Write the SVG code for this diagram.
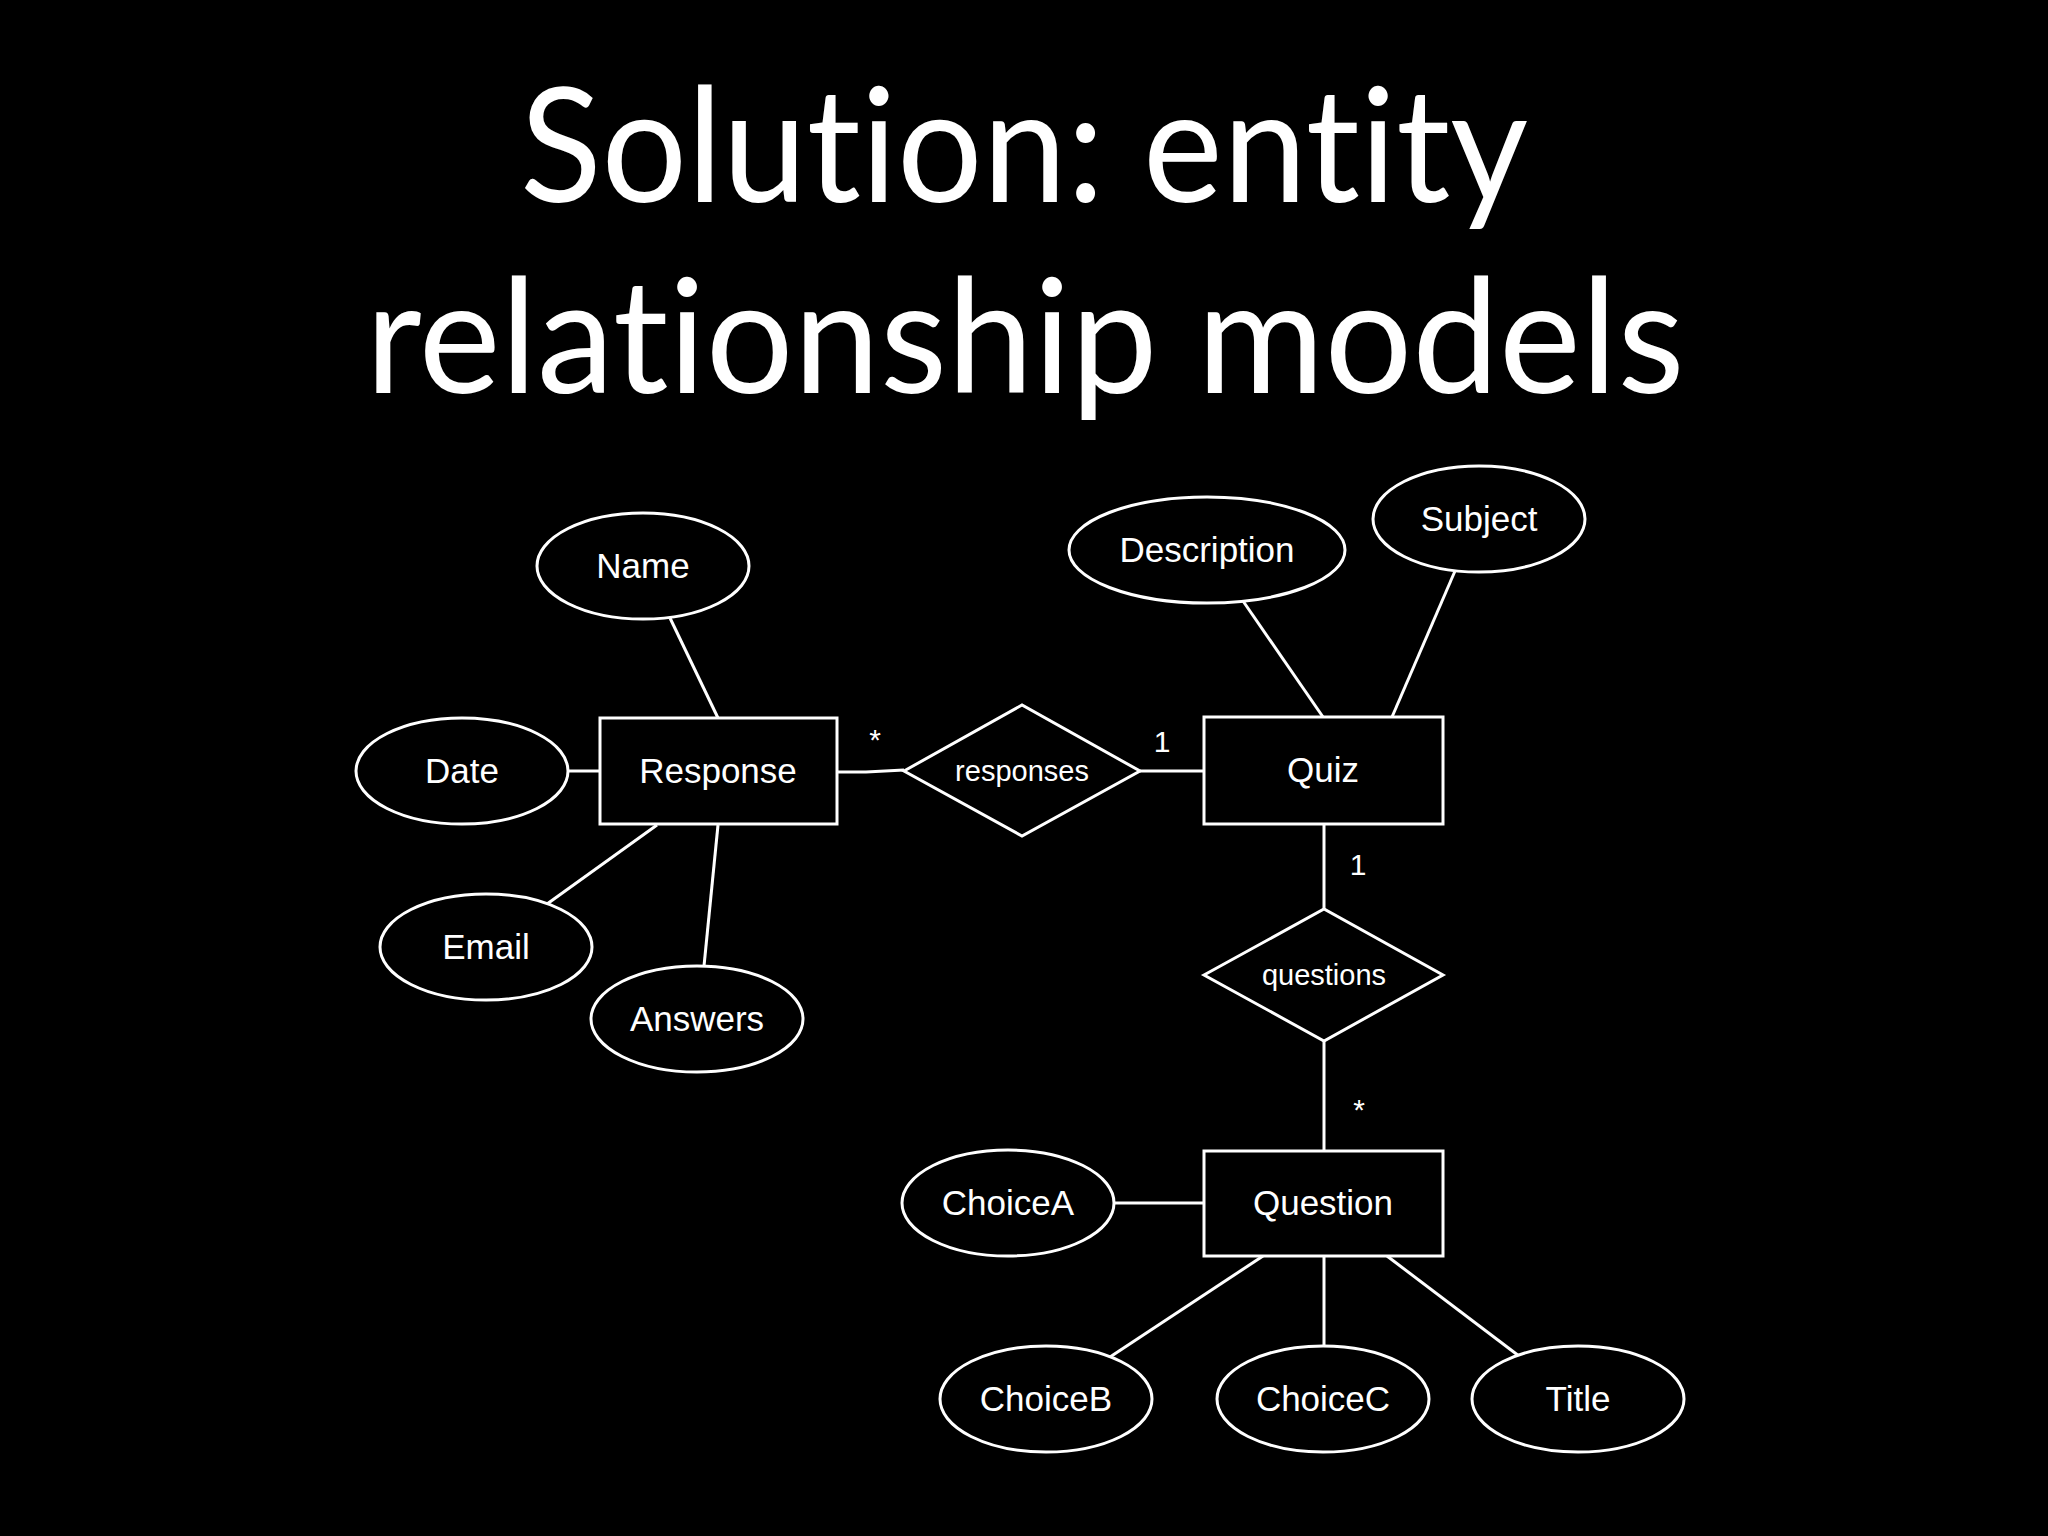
<svg xmlns="http://www.w3.org/2000/svg" width="2048" height="1536" viewBox="0 0 2048 1536">
<style>
.bg{fill:#000}
.title{font-family:Lato,"Open Sans","Liberation Sans",sans-serif;font-size:160px;fill:#fff;text-anchor:middle;font-variant-ligatures:none;font-feature-settings:"liga" 0,"clig" 0}
.shape{fill:#000;stroke:#fff;stroke-width:3}
.lbl{font-family:"Liberation Sans",Arial,sans-serif;font-size:35px;fill:#fff;text-anchor:middle}
.rel{font-family:"Liberation Sans",Arial,sans-serif;font-size:29px;fill:#fff;text-anchor:middle}
.card{font-family:"Liberation Sans",Arial,sans-serif;font-size:30px;fill:#fff;text-anchor:middle}
.conn{fill:none;stroke:#fff;stroke-width:3}
</style>
<rect class="bg" x="0" y="0" width="2048" height="1536"/>
<g id="title">
<text class="title" x="1024" y="202" textLength="1008" lengthAdjust="spacingAndGlyphs">Solution: entity</text>
<text class="title" x="1025" y="393" textLength="1319" lengthAdjust="spacingAndGlyphs">relationship models</text>
</g>
<g id="connectors">
<line class="conn" x1="670" y1="618" x2="718" y2="718"/>
<line class="conn" x1="568" y1="771" x2="600" y2="771"/>
<line class="conn" x1="657" y1="825" x2="547" y2="904"/>
<line class="conn" x1="718" y1="825" x2="704" y2="966"/>
<path class="conn" d="M837 772 L866 772 L904 770"/>
<line class="conn" x1="1140" y1="771" x2="1204" y2="771"/>
<line class="conn" x1="1243" y1="601" x2="1323" y2="717"/>
<line class="conn" x1="1455" y1="571" x2="1392" y2="717"/>
<line class="conn" x1="1324" y1="824" x2="1324" y2="909"/>
<line class="conn" x1="1324" y1="1041" x2="1324" y2="1151"/>
<line class="conn" x1="1114" y1="1203" x2="1204" y2="1203"/>
<line class="conn" x1="1263" y1="1256" x2="1110" y2="1357"/>
<line class="conn" x1="1324" y1="1256" x2="1324" y2="1347"/>
<line class="conn" x1="1387" y1="1256" x2="1519" y2="1356"/>
<text class="card" x="875" y="750">*</text>
<text class="card" x="1162" y="752">1</text>
<text class="card" x="1358" y="875">1</text>
<text class="card" x="1359" y="1120">*</text>
</g>
<g id="name"><ellipse class="shape" cx="643" cy="566" rx="106" ry="53"/><text class="lbl" x="643" y="578">Name</text></g>
<g id="date"><ellipse class="shape" cx="462" cy="771" rx="106" ry="53"/><text class="lbl" x="462" y="783">Date</text></g>
<g id="response"><rect class="shape" x="600" y="718" width="237" height="106"/><text class="lbl" x="718" y="783">Response</text></g>
<g id="email"><ellipse class="shape" cx="486" cy="947" rx="106" ry="53"/><text class="lbl" x="486" y="959">Email</text></g>
<g id="answers"><ellipse class="shape" cx="697" cy="1019" rx="106" ry="53"/><text class="lbl" x="697" y="1031">Answers</text></g>
<g id="responses"><polygon class="shape" points="904,771 1022,705 1140,771 1022,836"/><text class="rel" x="1022" y="781">responses</text></g>
<g id="quiz"><rect class="shape" x="1204" y="717" width="239" height="107"/><text class="lbl" x="1323" y="782">Quiz</text></g>
<g id="description"><ellipse class="shape" cx="1207" cy="550" rx="138" ry="53"/><text class="lbl" x="1207" y="562">Description</text></g>
<g id="subject"><ellipse class="shape" cx="1479" cy="519" rx="106" ry="53"/><text class="lbl" x="1479" y="531">Subject</text></g>
<g id="questions"><polygon class="shape" points="1204,975 1324,909 1443,975 1324,1041"/><text class="rel" x="1324" y="985">questions</text></g>
<g id="question"><rect class="shape" x="1204" y="1151" width="239" height="105"/><text class="lbl" x="1323" y="1215">Question</text></g>
<g id="choicea"><ellipse class="shape" cx="1008" cy="1203" rx="106" ry="53"/><text class="lbl" x="1008" y="1215">ChoiceA</text></g>
<g id="choiceb"><ellipse class="shape" cx="1046" cy="1399" rx="106" ry="53"/><text class="lbl" x="1046" y="1411">ChoiceB</text></g>
<g id="choicec"><ellipse class="shape" cx="1323" cy="1399" rx="106" ry="53"/><text class="lbl" x="1323" y="1411">ChoiceC</text></g>
<g id="titleattr"><ellipse class="shape" cx="1578" cy="1399" rx="106" ry="53"/><text class="lbl" x="1578" y="1411">Title</text></g>
</svg>
